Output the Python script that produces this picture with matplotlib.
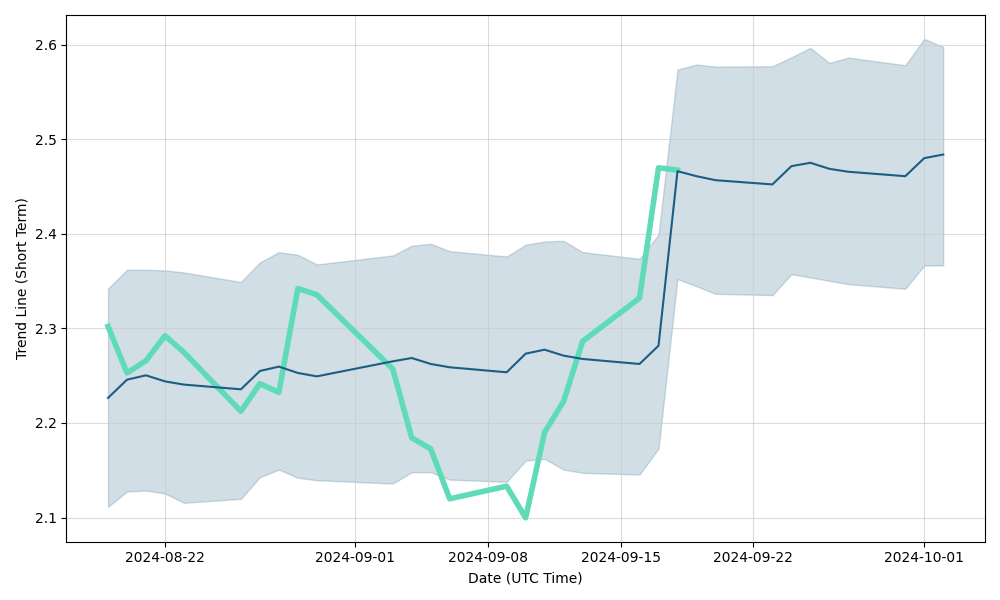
import matplotlib
matplotlib.use("Agg")
import matplotlib.pyplot as plt
import pandas as pd

# trading days shown on the chart
dates = pd.to_datetime([
    "2024-08-19", "2024-08-20", "2024-08-21", "2024-08-22", "2024-08-23",
    "2024-08-26", "2024-08-27", "2024-08-28", "2024-08-29", "2024-08-30",
    "2024-09-03", "2024-09-04", "2024-09-05", "2024-09-06",
    "2024-09-09", "2024-09-10", "2024-09-11", "2024-09-12", "2024-09-13",
    "2024-09-16", "2024-09-17", "2024-09-18", "2024-09-19", "2024-09-20",
    "2024-09-23", "2024-09-24", "2024-09-25", "2024-09-26", "2024-09-27",
    "2024-09-30", "2024-10-01", "2024-10-02",
])

trend = [2.2265, 2.2458, 2.2504, 2.2440, 2.2406, 2.2356, 2.2550, 2.2596, 2.2529, 2.2493,
         2.2652, 2.2687, 2.2624, 2.2589, 2.2536, 2.2733, 2.2775, 2.2712, 2.2677, 2.2624,
         2.2817, 2.4662, 2.4609, 2.4567, 2.4522, 2.4715, 2.4751, 2.4687, 2.4656, 2.4609,
         2.4800, 2.4838]
upper = [2.3422, 2.3620, 2.3620, 2.3613, 2.3592, 2.3490, 2.3697, 2.3806, 2.3778, 2.3676,
         2.3771, 2.3873, 2.3894, 2.3817, 2.3760, 2.3884, 2.3919, 2.3926, 2.3806, 2.3736,
         2.3990, 2.5736, 2.5789, 2.5768, 2.5771, 2.5866, 2.5965, 2.5807, 2.5863, 2.5782,
         2.6060, 2.5976]
lower = [2.1114, 2.1276, 2.1286, 2.1255, 2.1156, 2.1198, 2.1427, 2.1508, 2.1420, 2.1395,
         2.1360, 2.1480, 2.1480, 2.1402, 2.1378, 2.1603, 2.1621, 2.1508, 2.1473, 2.1455,
         2.1730, 2.3522, 2.3446, 2.3366, 2.3352, 2.3573, 2.3539, 2.3503, 2.3468, 2.3419,
         2.3665, 2.3665]
# price only known up to 2024-09-18
price = [2.3021, 2.2529, 2.2659, 2.2923, 2.2747, 2.2124, 2.2416, 2.2324, 2.3422, 2.3356,
         2.2571, 2.1843, 2.1726, 2.1199, 2.1332, 2.0998, 2.1902, 2.2229, 2.2863, 2.3321,
         2.4698, 2.4673]

dark = "#1b5e82"
green = "#5fdcb7"

fig, ax = plt.subplots(figsize=(10, 6), dpi=100)
ax.fill_between(dates, lower, upper, color=dark, alpha=0.2)
ax.plot(dates[:len(price)], price, color=green, linewidth=4)
ax.plot(dates, trend, color=dark, linewidth=1.5)

ax.grid(True, color="#cccccc", alpha=0.7)
ax.set_xlabel("Date (UTC Time)")
ax.set_ylabel("Trend Line (Short Term)")

fig.tight_layout()
fig.savefig("out.png")
